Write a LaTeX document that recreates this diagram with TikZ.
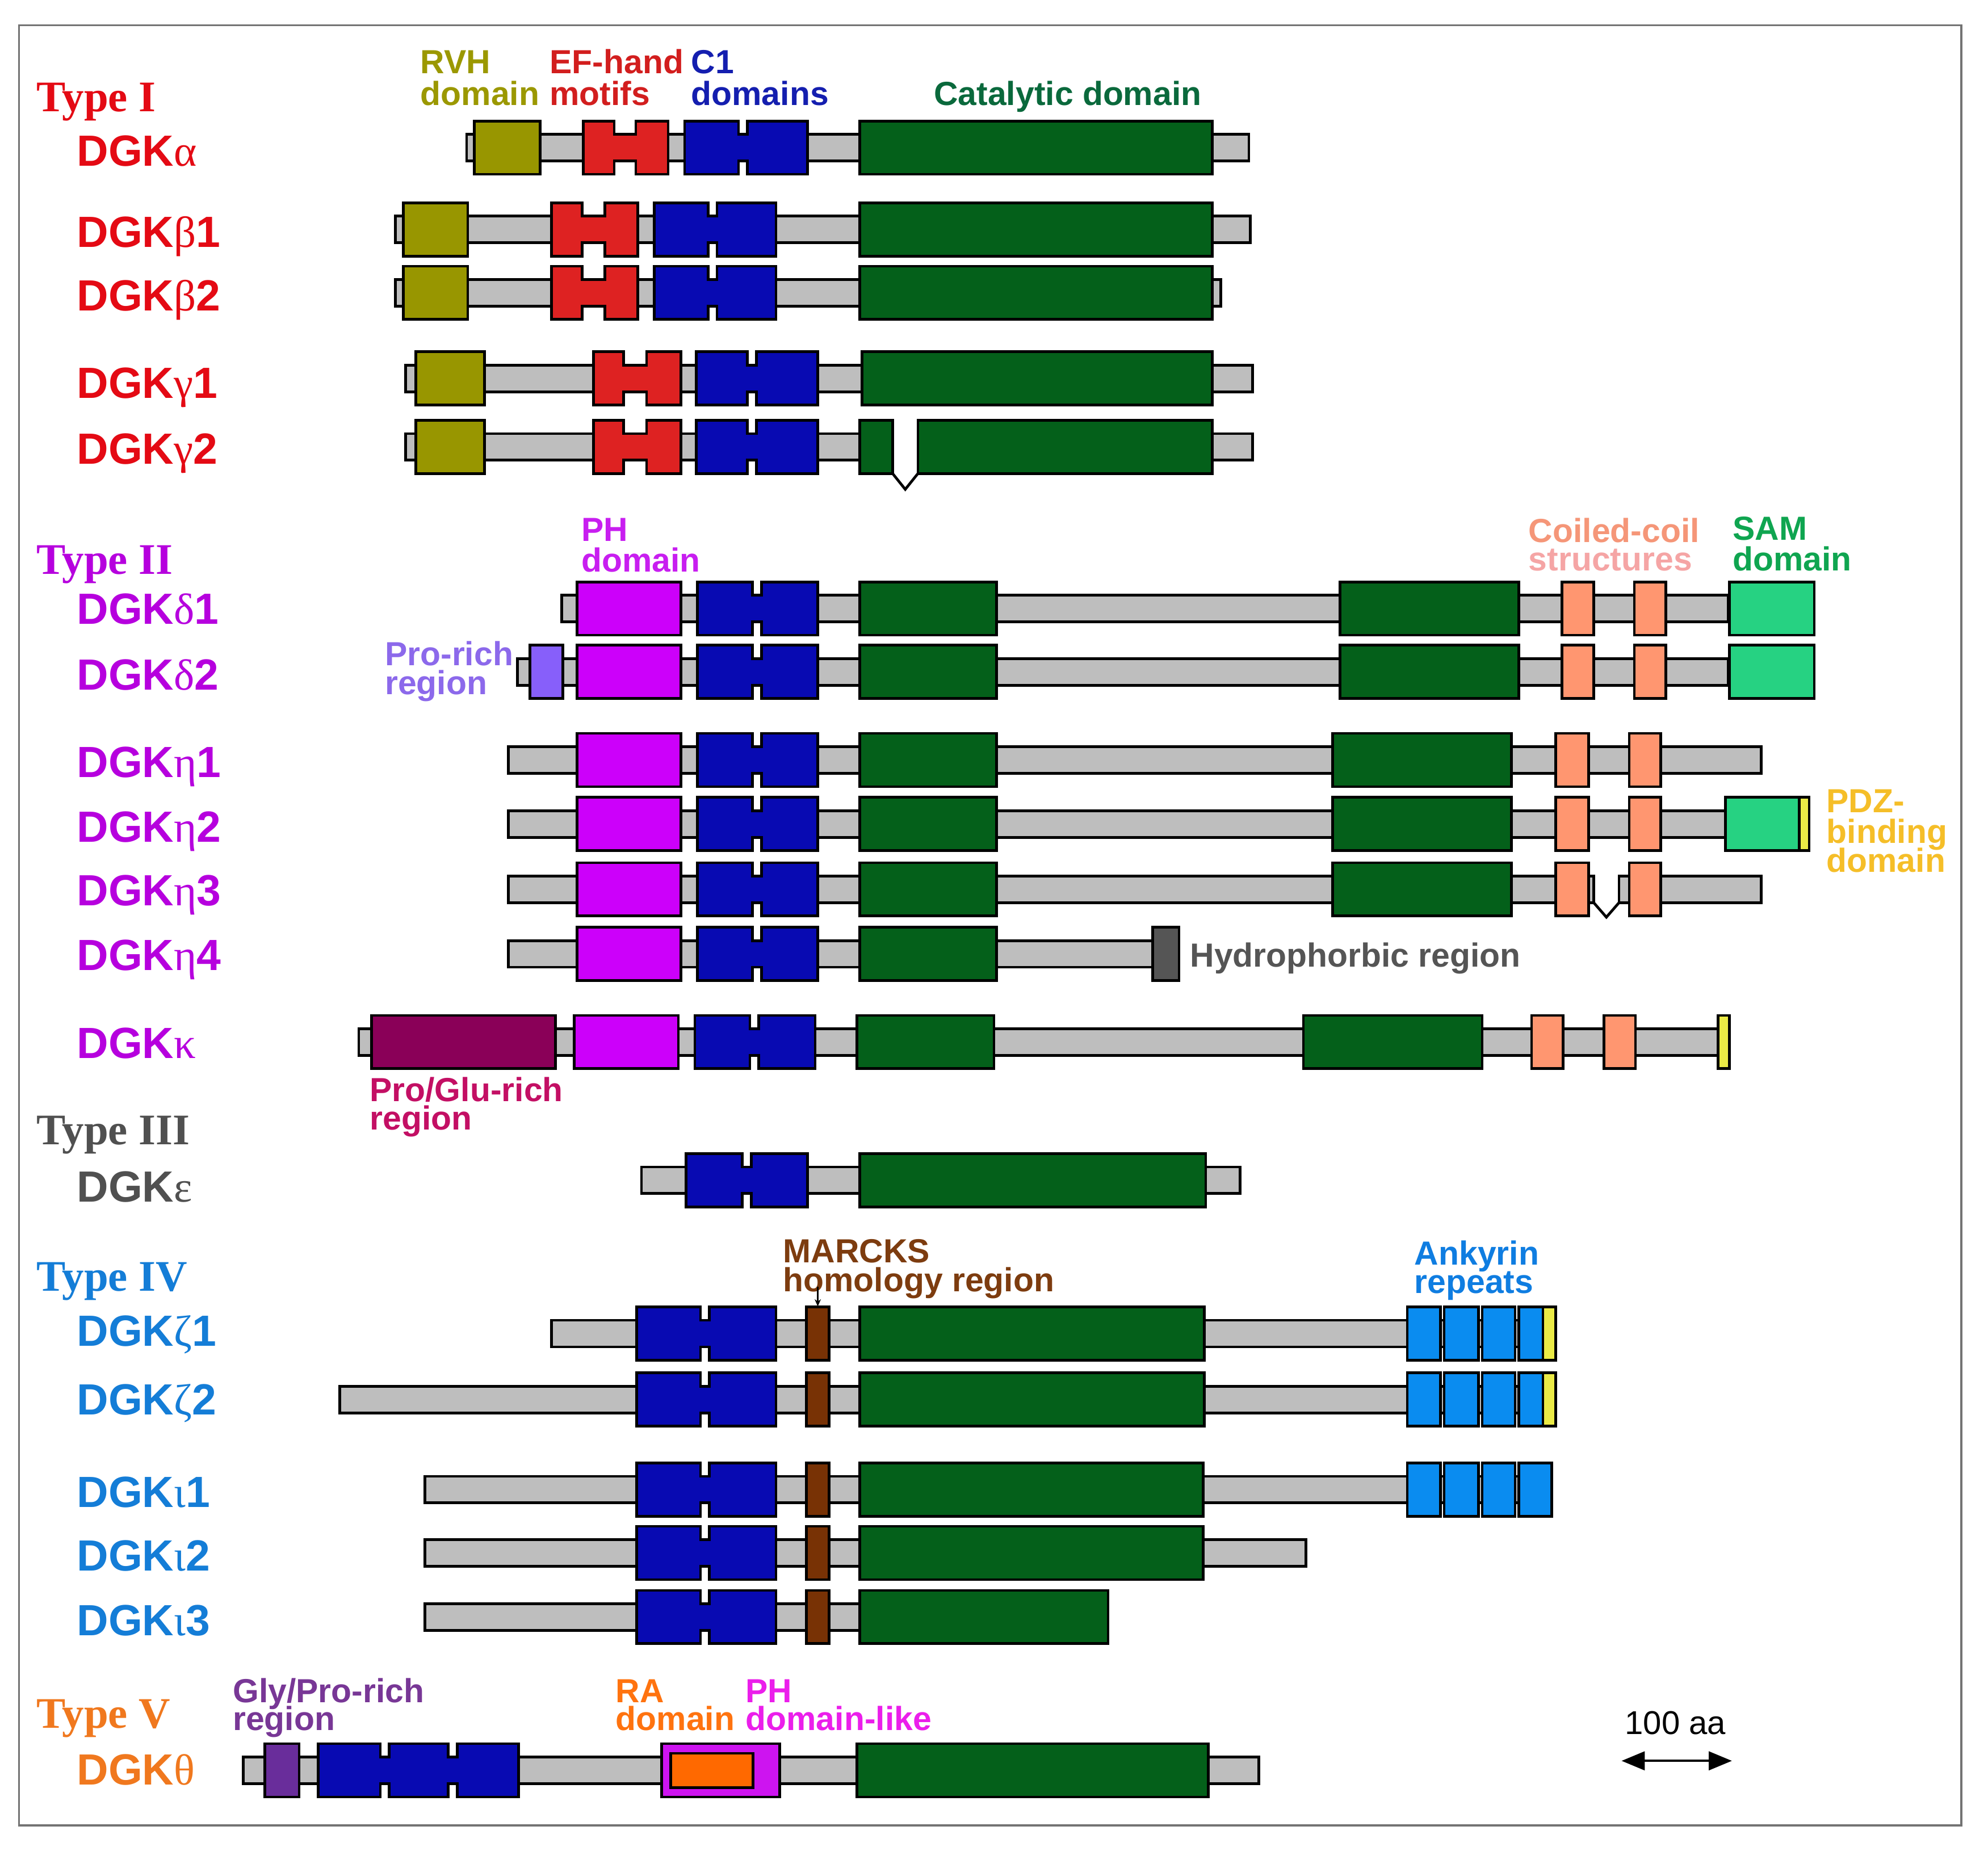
\documentclass[tikz,border=0pt]{standalone}
\usepackage{fontspec}
\setmainfont{Liberation Sans}
\newfontfamily\grk{Liberation Serif}
\newfontfamily\tserif{Liberation Serif}
\usetikzlibrary{arrows.meta}
% shape colours
\definecolor{barg}{RGB}{190,190,190}
\definecolor{rvh}{RGB}{152,150,0}
\definecolor{efr}{RGB}{222,34,34}
\definecolor{c1b}{RGB}{8,10,178}
\definecolor{catg}{RGB}{4,96,26}
\definecolor{phm}{RGB}{204,0,250}
\definecolor{coil}{RGB}{255,150,112}
\definecolor{samg}{RGB}{38,210,130}
\definecolor{yel}{RGB}{235,235,70}
\definecolor{prorich}{RGB}{135,95,250}
\definecolor{proglu}{RGB}{138,0,88}
\definecolor{hydro}{RGB}{85,85,85}
\definecolor{marck}{RGB}{120,50,5}
\definecolor{ankb}{RGB}{10,140,240}
\definecolor{glypro}{RGB}{105,45,155}
\definecolor{rao}{RGB}{255,105,0}
\definecolor{phlike}{RGB}{205,20,240}
% text colours
\definecolor{tI}{RGB}{228,10,20}
\definecolor{tII}{RGB}{182,0,222}
\definecolor{tIII}{RGB}{80,80,80}
\definecolor{tIV}{RGB}{20,125,215}
\definecolor{tV}{RGB}{240,120,30}
\definecolor{lrvh}{RGB}{155,152,0}
\definecolor{lef}{RGB}{210,30,30}
\definecolor{lc1}{RGB}{20,30,175}
\definecolor{lcat}{RGB}{10,105,60}
\definecolor{lph}{RGB}{200,30,240}
\definecolor{lcoil}{RGB}{245,150,120}
\definecolor{lstruct}{RGB}{245,165,165}
\definecolor{lsam}{RGB}{15,165,80}
\definecolor{lpro}{RGB}{140,105,235}
\definecolor{lpdz}{RGB}{245,190,40}
\definecolor{lproglu}{RGB}{195,15,100}
\definecolor{lhyd}{RGB}{85,85,85}
\definecolor{lmarck}{RGB}{125,60,15}
\definecolor{lank}{RGB}{15,125,225}
\definecolor{lgly}{RGB}{120,55,150}
\definecolor{lra}{RGB}{255,115,15}
\definecolor{lphl}{RGB}{235,30,235}
% helpers: x1, x2, yc
\newcommand\dgbar[3]{\filldraw[barst] (#1,#3-10.5) rectangle (#2,#3+10.5);}
% colour, x1, x2, yc
\newcommand\dgbox[4]{\filldraw[dstroke,fill=#1] (#2,#4-21) rectangle (#3,#4+21);}
% colour, x1, x2, yc, notch centre, notch half width
\newcommand\dgnotch[6]{\filldraw[dstroke,fill=#1] (#2,#4-21) -- (#5-#6,#4-21) -- (#5-#6,#4-10.5) -- (#5+#6,#4-10.5) -- (#5+#6,#4-21) -- (#3,#4-21) -- (#3,#4+21) -- (#5+#6,#4+21) -- (#5+#6,#4+10.5) -- (#5-#6,#4+10.5) -- (#5-#6,#4+21) -- (#2,#4+21) -- cycle;}
% colour, x1, x2, yc, centre1, centre2, half width
\newcommand\dgnotchtwo[7]{\filldraw[dstroke,fill=#1] (#2,#4-21) -- (#5-#7,#4-21) -- (#5-#7,#4-10.5) -- (#5+#7,#4-10.5) -- (#5+#7,#4-21) -- (#6-#7,#4-21) -- (#6-#7,#4-10.5) -- (#6+#7,#4-10.5) -- (#6+#7,#4-21) -- (#3,#4-21) -- (#3,#4+21) -- (#6+#7,#4+21) -- (#6+#7,#4+10.5) -- (#6-#7,#4+10.5) -- (#6-#7,#4+21) -- (#5+#7,#4+21) -- (#5+#7,#4+10.5) -- (#5-#7,#4+10.5) -- (#5-#7,#4+21) -- (#2,#4+21) -- cycle;}
\begin{document}
\begin{tikzpicture}[x=0.1mm,y=-0.1mm,
  dstroke/.style={draw=black,line width=0.6pt,line join=miter},
  barst/.style={fill=barg,draw=black,line width=0.6pt},
  lab/.style={anchor=base west,inner sep=0pt,font=\fontsize{7.5}{8}\selectfont\bfseries},
  ttl/.style={anchor=base west,inner sep=0pt,font=\fontsize{9.8}{11}\selectfont\tserif\bfseries},
  dgk/.style={anchor=base west,inner sep=0pt,font=\fontsize{9.8}{11}\selectfont\bfseries}]
\useasboundingbox (0,0) rectangle (1568,1470);
\fill[white] (0,0) rectangle (1568,1470);
\draw[line width=0.45pt,draw=black!55] (15,20) rectangle (1547,1440);

% ================= Type I =================
% alpha
\dgbar{368}{985}{116.5}
\dgbox{rvh}{374}{426}{116.5}
\dgnotch{efr}{460}{527}{116.5}{493}{8.5}
\dgnotch{c1b}{540}{637}{116.5}{586}{3.5}
\dgbox{catg}{678}{956}{116.5}
% beta1
\dgbar{312}{986}{181}
\dgbox{rvh}{318}{369}{181}
\dgnotch{efr}{435}{503}{181}{468}{9}
\dgnotch{c1b}{516}{612}{181}{562}{3.5}
\dgbox{catg}{678}{956}{181}
% beta2
\dgbar{312}{963}{231}
\dgbox{rvh}{318}{369}{231}
\dgnotch{efr}{435}{503}{231}{468}{9}
\dgnotch{c1b}{516}{612}{231}{562}{3.5}
\dgbox{catg}{678}{956}{231}
% gamma1
\dgbar{320}{988}{298.5}
\dgbox{rvh}{328}{382}{298.5}
\dgnotch{efr}{468}{537}{298.5}{501}{9}
\dgnotch{c1b}{549}{645}{298.5}{593}{3.5}
\dgbox{catg}{680}{956}{298.5}
% gamma2
\dgbar{320}{690}{352.5}
\dgbar{740}{988}{352.5}
\dgbox{rvh}{328}{382}{352.5}
\dgnotch{efr}{468}{537}{352.5}{501}{9}
\dgnotch{c1b}{549}{645}{352.5}{593}{3.5}
\dgbox{catg}{678}{704}{352.5}
\dgbox{catg}{724}{956}{352.5}
\draw[dstroke] (704,373.5) -- (714,386) -- (724,373.5);

% ================= Type II =================
% delta1
\dgbar{443}{1363}{480}
\dgbox{phm}{455}{537}{480}
\dgnotch{c1b}{550}{645}{480}{597}{3.5}
\dgbox{catg}{678}{786}{480}
\dgbox{catg}{1057}{1198}{480}
\dgbox{coil}{1232}{1257}{480}
\dgbox{coil}{1289}{1314}{480}
\dgbox{samg}{1364}{1431}{480}
% delta2
\dgbar{408}{1363}{530}
\dgbox{prorich}{418}{444}{530}
\dgbox{phm}{455}{537}{530}
\dgnotch{c1b}{550}{645}{530}{597}{3.5}
\dgbox{catg}{678}{786}{530}
\dgbox{catg}{1057}{1198}{530}
\dgbox{coil}{1232}{1257}{530}
\dgbox{coil}{1289}{1314}{530}
\dgbox{samg}{1364}{1431}{530}
% eta1
\dgbar{401}{1389}{599.5}
\dgbox{phm}{455}{537}{599.5}
\dgnotch{c1b}{550}{645}{599.5}{597}{3.5}
\dgbox{catg}{678}{786}{599.5}
\dgbox{catg}{1051}{1192}{599.5}
\dgbox{coil}{1227}{1253}{599.5}
\dgbox{coil}{1285}{1310}{599.5}
% eta2
\dgbar{401}{1361}{650}
\dgbox{phm}{455}{537}{650}
\dgnotch{c1b}{550}{645}{650}{597}{3.5}
\dgbox{catg}{678}{786}{650}
\dgbox{catg}{1051}{1192}{650}
\dgbox{coil}{1227}{1253}{650}
\dgbox{coil}{1285}{1310}{650}
\dgbox{samg}{1361}{1427}{650}
\dgbox{yel}{1419}{1427}{650}
% eta3
\dgbar{401}{1257}{701.5}
\dgbar{1277}{1389}{701.5}
\dgbox{phm}{455}{537}{701.5}
\dgnotch{c1b}{550}{645}{701.5}{597}{3.5}
\dgbox{catg}{678}{786}{701.5}
\dgbox{catg}{1051}{1192}{701.5}
\dgbox{coil}{1227}{1253}{701.5}
\dgbox{coil}{1285}{1310}{701.5}
\draw[dstroke] (1257,712) -- (1267,723.5) -- (1277,712);
% eta4
\dgbar{401}{912}{752.5}
\dgbox{phm}{455}{537}{752.5}
\dgnotch{c1b}{550}{645}{752.5}{597}{3.5}
\dgbox{catg}{678}{786}{752.5}
\dgbox{hydro}{909}{930}{752.5}
% kappa
\dgbar{283}{1358}{822}
\dgbox{proglu}{293}{438}{822}
\dgbox{phm}{453}{535}{822}
\dgnotch{c1b}{548}{643}{822}{595}{3.5}
\dgbox{catg}{676}{784}{822}
\dgbox{catg}{1028}{1169}{822}
\dgbox{coil}{1208}{1233}{822}
\dgbox{coil}{1265}{1290}{822}
\dgbox{yel}{1355}{1364}{822}

% ================= Type III =================
\dgbar{506}{978}{931}
\dgnotch{c1b}{541}{637}{931}{589}{3.5}
\dgbox{catg}{678}{951}{931}

% ================= Type IV =================
% zeta1
\dgbar{435}{1226}{1052}
\dgnotch{c1b}{502}{612}{1052}{556}{3.5}
\dgbox{marck}{636}{654}{1052}
\dgbox{catg}{678}{950}{1052}
\dgbox{ankb}{1110}{1136}{1052}
\dgbox{ankb}{1139}{1166}{1052}
\dgbox{ankb}{1169}{1195}{1052}
\dgbox{ankb}{1198}{1217}{1052}
\dgbox{yel}{1217}{1227}{1052}
% zeta2
\dgbar{268}{1226}{1104}
\dgnotch{c1b}{502}{612}{1104}{556}{3.5}
\dgbox{marck}{636}{654}{1104}
\dgbox{catg}{678}{950}{1104}
\dgbox{ankb}{1110}{1136}{1104}
\dgbox{ankb}{1139}{1166}{1104}
\dgbox{ankb}{1169}{1195}{1104}
\dgbox{ankb}{1198}{1217}{1104}
\dgbox{yel}{1217}{1227}{1104}
% iota1
\dgbar{335}{1222}{1175}
\dgnotch{c1b}{502}{612}{1175}{556}{3.5}
\dgbox{marck}{636}{654}{1175}
\dgbox{catg}{678}{949}{1175}
\dgbox{ankb}{1110}{1136}{1175}
\dgbox{ankb}{1139}{1166}{1175}
\dgbox{ankb}{1169}{1195}{1175}
\dgbox{ankb}{1198}{1224}{1175}
% iota2
\dgbar{335}{1030}{1225}
\dgnotch{c1b}{502}{612}{1225}{556}{3.5}
\dgbox{marck}{636}{654}{1225}
\dgbox{catg}{678}{949}{1225}
% iota3
\dgbar{335}{874}{1275.5}
\dgnotch{c1b}{502}{612}{1275.5}{556}{3.5}
\dgbox{marck}{636}{654}{1275.5}
\dgbox{catg}{678}{874}{1275.5}

% ================= Type V =================
\dgbar{192}{993}{1396.5}
\dgbox{glypro}{209}{236}{1396.5}
\dgnotchtwo{c1b}{251}{409}{1396.5}{303.5}{357}{3.5}
\dgbox{phlike}{522}{615}{1396.5}
\filldraw[dstroke,fill=rao] (529,1383) rectangle (594,1410);
\dgbox{catg}{676}{953}{1396.5}

% ================= group and isoform labels =================
\node[ttl,tI] (tyI) at (28,88) {Type I};
\node[dgk,tI] (lalpha) at (60,131) {DGK{\grk\mdseries α}};
\node[dgk,tI] (lbeta1) at (60,195) {DGK{\grk\mdseries β}1};
\node[dgk,tI] (lbeta2) at (60,245) {DGK{\grk\mdseries β}2};
\node[dgk,tI] (lgamma1) at (60,314) {DGK{\grk\mdseries γ}1};
\node[dgk,tI] (lgamma2) at (60,366) {DGK{\grk\mdseries γ}2};

\node[ttl,tII] (tyII) at (28,453) {Type II};
\node[dgk,tII] (ldelta1) at (60,492.5) {DGK{\grk\mdseries δ}1};
\node[dgk,tII] (ldelta2) at (60,544) {DGK{\grk\mdseries δ}2};
\node[dgk,tII] (leta1) at (60,613) {DGK{\grk\mdseries η}1};
\node[dgk,tII] (leta2) at (60,664) {DGK{\grk\mdseries η}2};
\node[dgk,tII] (leta3) at (60,714.5) {DGK{\grk\mdseries η}3};
\node[dgk,tII] (leta4) at (60,765.5) {DGK{\grk\mdseries η}4};
\node[dgk,tII] (lkappa) at (60,835) {DGK{\grk\mdseries κ}};

\node[ttl,tIII] (tyIII) at (28,903) {Type III};
\node[dgk,tIII] (leps) at (60,948) {DGK{\grk\mdseries ε}};

\node[ttl,tIV] (tyIV) at (28,1018.5) {Type IV};
\node[dgk,tIV] (lzeta1) at (60,1062) {DGK{\grk\mdseries ζ}1};
\node[dgk,tIV] (lzeta2) at (60,1116) {DGK{\grk\mdseries ζ}2};
\node[dgk,tIV] (liota1) at (60,1189) {DGK{\grk\mdseries ι}1};
\node[dgk,tIV] (liota2) at (60,1239) {DGK{\grk\mdseries ι}2};
\node[dgk,tIV] (liota3) at (60,1290) {DGK{\grk\mdseries ι}3};

\node[ttl,tV] (tyV) at (28,1363) {Type V};
\node[dgk,tV] (ltheta) at (60,1408) {DGK{\grk\mdseries θ}};

% ================= domain labels =================
\node[lab,lrvh] (rvhA) at (331,58) {RVH};
\node[lab,lrvh] (rvhB) at (331,83) {domain};
\node[lab,lef] (efA) at (433,58) {EF-hand};
\node[lab,lef] (efB) at (433,83) {motifs};
\node[lab,lc1] (cA) at (544.5,58) {C1};
\node[lab,lc1] (cB) at (544.5,83) {domains};
\node[lab,lcat] (catA) at (736,83) {Catalytic domain};

\node[lab,lph] (phA) at (458,427) {PH};
\node[lab,lph] (phB) at (458,451) {domain};
\node[lab,lcoil] (ccA) at (1205,428) {Coiled-coil};
\node[lab,lstruct] (ccB) at (1205,450) {structures};
\node[lab,lsam] (samA) at (1366,426) {SAM};
\node[lab,lsam] (samB) at (1366,450) {domain};
\node[lab,lpro] (prA) at (303,525) {Pro-rich};
\node[lab,lpro] (prB) at (303,548) {region};
\node[lab,lpdz] (pdzA) at (1440,641) {PDZ-};
\node[lab,lpdz] (pdzB) at (1440,665) {binding};
\node[lab,lpdz] (pdzC) at (1440,688) {domain};
\node[lab,lhyd] (hyd) at (938,762.5) {Hydrophorbic region};
\node[lab,lproglu] (pgA) at (291,869) {Pro/Glu-rich};
\node[lab,lproglu] (pgB) at (291,891) {region};

\node[lab,lmarck] (mkA) at (617,996) {MARCKS};
\node[lab,lmarck] (mkB) at (617,1019) {homology region};
\node[lab,lank] (ankA) at (1115,998) {Ankyrin};
\node[lab,lank] (ankB) at (1115,1020) {repeats};

\node[lab,lgly] (glA) at (183,1343) {Gly/Pro-rich};
\node[lab,lgly] (glB) at (183,1365) {region};
\node[lab,lra] (raA) at (485,1343) {RA};
\node[lab,lra] (raB) at (485,1365) {domain};
\node[lab,lphl] (phlA) at (587.5,1343) {PH};
\node[lab,lphl] (phlB) at (587.5,1365) {domain-like};

% MARCKS pointer
\coordinate (mkfrom) at (645,1015);
\coordinate (mkto) at (645,1030.5);
\draw[line width=0.4pt,-{Stealth[length=1.6pt,width=1.4pt]}] (mkfrom) -- (mkto);

% scale bar
\node[anchor=base west,inner sep=0pt,font=\fontsize{7.4}{8}\selectfont] (scl) at (1281,1368) {100 aa};
\coordinate (sclA) at (1279,1389);
\coordinate (sclB) at (1366,1389);
\draw[line width=0.45pt,{Triangle[length=5.2pt,width=4.2pt]}-{Triangle[length=5.2pt,width=4.2pt]}] (sclA) -- (sclB);
\end{tikzpicture}
\end{document}
